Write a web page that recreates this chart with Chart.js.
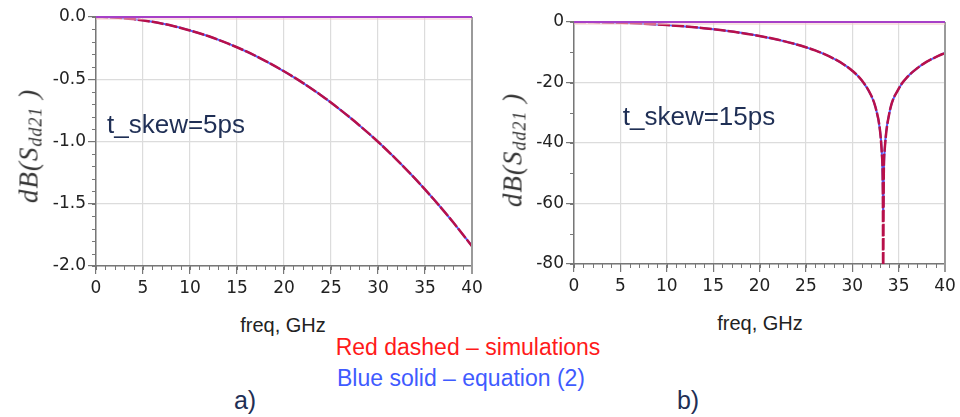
<!DOCTYPE html>
<html>
<head>
<meta charset="utf-8">
<script src="https://cdn.jsdelivr.net/npm/chart.js@4.4.1/dist/chart.umd.min.js"></script>
<style>
    body { margin: 0; background: #fff; }
    #wrap { position: relative; width: 960px; height: 417px; background: #fff; overflow: hidden; }
    canvas { position: absolute; top: 0; }
    .txt { position: absolute; transform: translate(-50%, -50%); white-space: nowrap; font-family: "Liberation Sans", Arial, sans-serif; }
    .ytitle { position: absolute; transform: translate(-50%, -50%) rotate(-90deg); white-space: nowrap;
              font-family: "Liberation Serif", serif; font-style: italic; font-size: 27px; color: #333; letter-spacing: 1px; }
    .ytitle sub { font-size: 18px; vertical-align: -4px; }
</style>
</head>
<body>
<div id="wrap">
    <canvas id="chartA" width="500" height="300" style="left:0"></canvas>
    <canvas id="chartB" width="480" height="300" style="left:480px"></canvas>

    <div class="ytitle" style="left:30px; top:146px">dB(S<sub>dd21</sub> )</div>
    <div class="ytitle" style="left:514px; top:150px">dB(S<sub>dd21</sub> )</div>

    <div class="txt" style="left:176px; top:124px; font-size:26px; color:#1f2f55">t_skew=5ps</div>
    <div class="txt" style="left:699px; top:116px; font-size:26px; color:#1f2f55">t_skew=15ps</div>

    <div class="txt" style="left:283px; top:325px; font-size:20px; color:#222">freq, GHz</div>
    <div class="txt" style="left:760px; top:323px; font-size:20px; color:#222">freq, GHz</div>

    <div class="txt" style="left:468px; top:347px; font-size:23px; color:#ff1a1a">Red dashed – simulations</div>
    <div class="txt" style="left:461px; top:378px; font-size:23px; color:#3f5bff">Blue solid – equation (2)</div>

    <div class="txt" style="left:245px; top:400px; font-size:25px; color:#1f2f55">a)</div>
    <div class="txt" style="left:688px; top:400px; font-size:25px; color:#1f2f55">b)</div>
</div>
<script>
// a) t_skew = 5ps
var freqA = [0, 2, 4, 6, 8, 10, 12, 14, 16, 18, 20, 22, 24, 26, 28, 30, 32, 34, 36, 38, 40];
var simA = [0, -0.004, -0.017, -0.039, -0.069, -0.108, -0.155, -0.212, -0.277, -0.352, -0.436,
            -0.529, -0.632, -0.746, -0.869, -1.002, -1.147, -1.303, -1.470, -1.649, -1.841];
var eqA = [0, -0.004, -0.017, -0.039, -0.069, -0.108, -0.155, -0.212, -0.277, -0.352, -0.436,
           -0.529, -0.632, -0.746, -0.869, -1.002, -1.147, -1.303, -1.470, -1.649, -1.841];

// b) t_skew = 15ps
var freqB = [0, 2, 4, 6, 8, 10, 12, 14, 16, 18, 20, 22, 24, 25, 26, 27, 28, 29, 30, 31, 32, 32.5,
             33, 33.2, 33.3, 33.33, 33.4, 33.5, 34, 35, 36, 37, 38, 39, 40];
var simB = [0, -0.04, -0.16, -0.35, -0.63, -1.00, -1.47, -2.05, -2.75, -3.59, -4.62, -5.87, -7.42, -8.34,
            -9.40, -10.63, -12.09, -13.86, -16.11, -19.19, -24.04, -28.12,
            -36.08, -44.0, -56.1, -85, -50.1, -42.1, -30.1, -22.1, -18.0, -15.3, -13.2, -11.6, -10.2];
var eqB = [0, -0.04, -0.16, -0.35, -0.63, -1.00, -1.47, -2.05, -2.75, -3.59, -4.62, -5.87, -7.42, -8.34,
           -9.40, -10.63, -12.09, -13.86, -16.11, -19.19, -24.04, -28.12,
           -36.08, -44.0, -56.1, -65, -50.1, -42.1, -30.1, -22.1, -18.0, -15.3, -13.2, -11.6, -10.2];

var xTicks = [0, 5, 10, 15, 20, 25, 30, 35, 40];

function toPoints(xs, ys) {
    return xs.map(function (x, i) { return { x: x, y: ys[i] }; });
}

// minor ticks + purple top edge + grey right edge
var framePlugin = {
    id: 'frame',
    afterDatasetsDraw: function (chart, args, opts) {
        var ctx = chart.ctx;
        var a = chart.chartArea;
        var xs = chart.scales.x, ys = chart.scales.y;
        ctx.save();
        ctx.strokeStyle = '#777';
        ctx.lineWidth = 1;
        ctx.beginPath();
        for (var v = xs.min; v <= xs.max + 1e-9; v += opts.xMinor) {
            var px = Math.round(xs.getPixelForValue(v)) + 0.5;
            ctx.moveTo(px, a.bottom);
            ctx.lineTo(px, a.bottom + 4);
        }
        for (var w = ys.min; w <= ys.max + 1e-9; w += opts.yMinor) {
            var py = Math.round(ys.getPixelForValue(w)) + 0.5;
            ctx.moveTo(a.left, py);
            ctx.lineTo(a.left - 4, py);
        }
        ctx.stroke();
        // right edge
        ctx.strokeStyle = '#9a9a9a';
        ctx.lineWidth = 2;
        ctx.beginPath();
        ctx.moveTo(a.right, a.top);
        ctx.lineTo(a.right, a.bottom + 8);
        ctx.stroke();
        // top edge
        ctx.strokeStyle = '#f4c8c8';
        ctx.lineWidth = 1;
        ctx.beginPath();
        ctx.moveTo(a.left, a.top + 2);
        ctx.lineTo(a.right, a.top + 2);
        ctx.stroke();
        ctx.strokeStyle = '#a640c8';
        ctx.lineWidth = 2;
        ctx.beginPath();
        ctx.moveTo(a.left, a.top);
        ctx.lineTo(a.right, a.top);
        ctx.stroke();
        ctx.restore();
    }
};

function makeChart(id, freq, sim, eq, yMin, yStep, yMinor, yWidth, xHeight, pad, fmt) {
    var ctx = document.getElementById(id).getContext('2d');
    return new Chart(ctx, {
        type: 'line',
        data: {
            datasets: [{
                label: 'Red dashed - simulations',
                data: toPoints(freq, sim),
                borderColor: '#b8104a',
                borderWidth: 2.5,
                borderDash: [12, 2],
                pointRadius: 0,
                cubicInterpolationMode: 'monotone',
                order: 0
            }, {
                label: 'Blue solid - equation (2)',
                data: toPoints(freq, eq),
                borderColor: '#5060ff',
                borderWidth: 2,
                pointRadius: 0,
                cubicInterpolationMode: 'monotone',
                order: 1
            }]
        },
        options: {
            responsive: false,
            animation: false,
            devicePixelRatio: 1,
            layout: { padding: pad },
            plugins: {
                legend: { display: false },
                tooltip: { enabled: false },
                frame: { xMinor: 1, yMinor: yMinor }
            },
            scales: {
                x: {
                    type: 'linear',
                    min: 0,
                    max: 40,
                    afterBuildTicks: function (scale) {
                        scale.ticks = xTicks.map(function (v) { return { value: v }; });
                    },
                    afterFit: function (scale) {
                        scale.height = xHeight;
                        scale.paddingLeft = 0;
                        scale.paddingRight = 0;
                    },
                    ticks: {
                        color: '#222',
                        font: { family: 'DejaVu Sans', size: 17 },
                        padding: 4,
                        maxRotation: 0
                    },
                    grid: { color: '#dcdcdc', lineWidth: 1.2, tickLength: 8, tickColor: '#777' },
                    border: { color: '#777', width: 1.5 }
                },
                y: {
                    min: yMin,
                    max: 0,
                    ticks: {
                        stepSize: yStep,
                        color: '#222',
                        font: { family: 'DejaVu Sans', size: 17 },
                        padding: 2,
                        callback: fmt
                    },
                    afterFit: function (scale) {
                        scale.width = yWidth;
                        scale.paddingTop = 0;
                        scale.paddingBottom = 0;
                    },
                    grid: { color: '#dcdcdc', lineWidth: 1.2, tickLength: 8, tickColor: '#777' },
                    border: { color: '#777', width: 1.5 }
                }
            }
        },
        plugins: [framePlugin]
    });
}

makeChart('chartA', freqA, simA, eqA, -2, 0.5, 0.1, 96, 34,
    { top: 17, right: 28, left: 0, bottom: 0 },
    function (v) { return v.toFixed(1); });

makeChart('chartB', freqB, simB, eqB, -80, 20, 10, 94, 36,
    { top: 22, right: 15, left: 0, bottom: 0 },
    function (v) { return v.toFixed(0); });
</script>
</body>
</html>
